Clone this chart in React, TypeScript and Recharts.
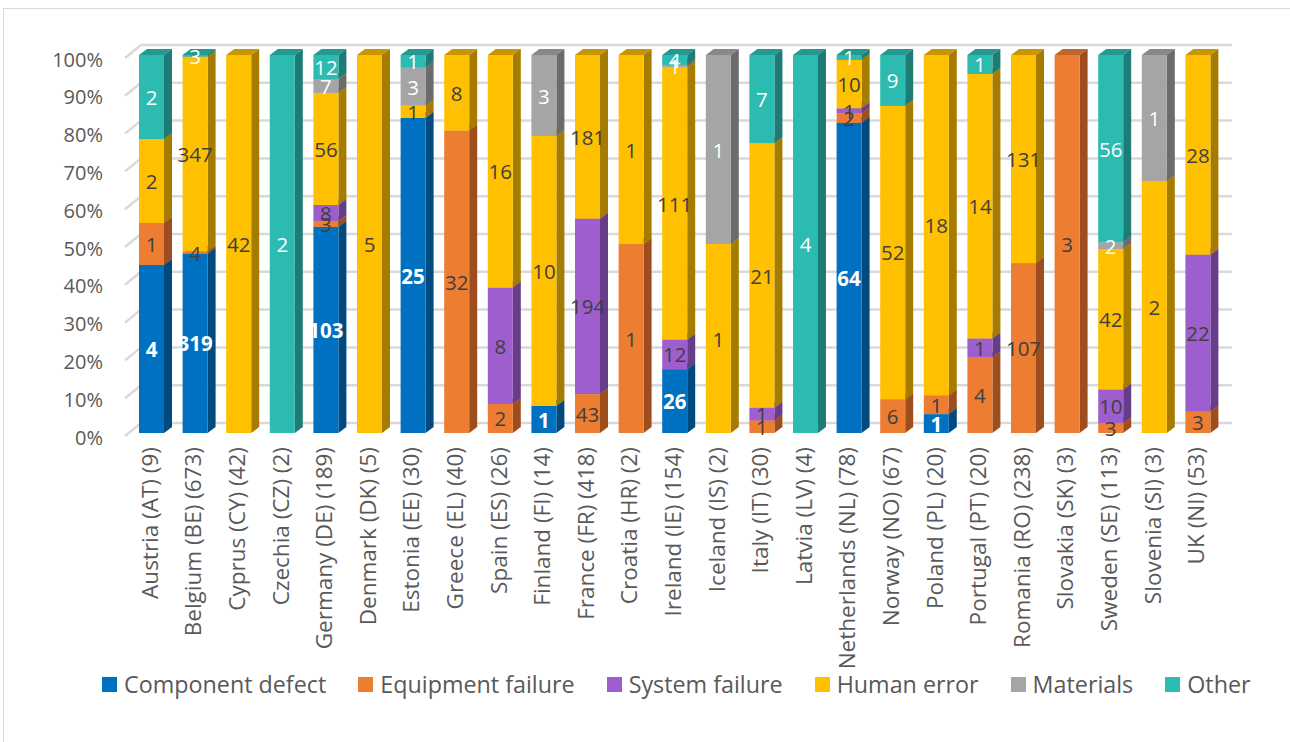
import React from 'react';
import { BarChart, Bar, XAxis, YAxis, CartesianGrid, LabelList } from 'recharts';

const countries = [
  'Austria (AT) (9)', 'Belgium (BE) (673)', 'Cyprus (CY) (42)', 'Czechia (CZ) (2)', 'Germany (DE) (189)',
  'Denmark (DK) (5)', 'Estonia (EE) (30)', 'Greece (EL) (40)', 'Spain (ES) (26)', 'Finland (FI) (14)',
  'France (FR) (418)', 'Croatia (HR) (2)', 'Ireland (IE) (154)', 'Iceland (IS) (2)', 'Italy (IT) (30)',
  'Latvia (LV) (4)', 'Netherlands (NL) (78)', 'Norway (NO) (67)', 'Poland (PL) (20)', 'Portugal (PT) (20)',
  'Romania (RO) (238)', 'Slovakia (SK) (3)', 'Sweden (SE) (113)', 'Slovenia (SI) (3)', 'UK (NI) (53)',
];

const componentDefect = [4, 319, 0, 0, 103, 0, 25, 0, 0, 1, 0, 0, 26, 0, 0, 0, 64, 0, 1, 0, 0, 0, 0, 0, 0];
const equipmentFailure = [1, 4, 0, 0, 3, 0, 0, 32, 2, 0, 43, 1, 0, 0, 1, 0, 2, 6, 1, 4, 107, 3, 3, 0, 3];
const systemFailure = [0, 0, 0, 0, 8, 0, 0, 0, 8, 0, 194, 0, 12, 0, 1, 0, 1, 0, 0, 1, 0, 0, 10, 0, 22];
const humanError = [2, 347, 42, 0, 56, 5, 1, 8, 16, 10, 181, 1, 111, 1, 21, 0, 10, 52, 18, 14, 131, 0, 42, 2, 28];
const materials = [0, 0, 0, 0, 7, 0, 3, 0, 0, 3, 0, 0, 1, 1, 0, 0, 0, 0, 0, 0, 0, 0, 2, 1, 0];
const other = [2, 3, 0, 2, 12, 0, 1, 0, 0, 0, 0, 0, 4, 0, 7, 4, 1, 9, 0, 1, 0, 0, 56, 0, 0];

const yTicks = [0, 0.1, 0.2, 0.3, 0.4, 0.5, 0.6, 0.7, 0.8, 0.9, 1];

const seriesDefs = [
  { key: 'cd', name: 'Component defect', values: componentDefect, front: '#0070C0', side: '#004A80', top: '#005A9C', label: '#FFFFFF', bold: true },
  { key: 'ef', name: 'Equipment failure', values: equipmentFailure, front: '#ED7D31', side: '#9E4E1E', top: '#C2652A', label: '#404040', bold: false },
  { key: 'sf', name: 'System failure', values: systemFailure, front: '#9E5ECE', side: '#673C88', top: '#8450AD', label: '#404040', bold: false },
  { key: 'he', name: 'Human error', values: humanError, front: '#FFC000', side: '#A67C00', top: '#C79600', label: '#404040', bold: false },
  { key: 'ma', name: 'Materials', values: materials, front: '#A5A5A5', side: '#6B6B6B', top: '#888888', label: '#FFFFFF', bold: false },
  { key: 'ot', name: 'Other', values: other, front: '#2BBBB0', side: '#1D7C75', top: '#239A91', label: '#FFFFFF', bold: false },
];

const data = countries.map((c, i) => {
  const row: any = { country: c };
  seriesDefs.forEach((s) => { row[s.key] = s.values[i]; });
  return row;
});

const FONT = '"Open Sans", "Noto Sans", sans-serif';
const DX = 8;
const DY = 6;

function make3D(s: any) {
  return (props: any) => {
    const { x, y, width, height } = props;
    if (!height || height <= 0.01) return <g />;
    const r = x + width;
    return (
      <g>
        <polygon points={`${x},${y} ${x + DX},${y - DY} ${r + DX},${y - DY} ${r},${y}`} fill={s.top} />
        <polygon points={`${r},${y} ${r + DX},${y - DY} ${r + DX},${y + height - DY} ${r},${y + height}`} fill={s.side} />
        <rect x={x} y={y} width={width} height={height} fill={s.front} />
      </g>
    );
  };
}

function makeLabel(s: any) {
  return (props: any) => {
    const { x, y, width, height, index } = props;
    const v = s.values[index];
    if (!v) return null;
    return (
      <text
        x={x + width / 2}
        y={y + height / 2}
        textAnchor="middle"
        dominantBaseline="central"
        fontFamily={FONT}
        fontSize={20.5}
        fontWeight={s.bold ? 700 : 400}
        fill={s.label}
      >
        {v}
      </text>
    );
  };
}

const gridLine = (props: any) => {
  const { y1, index } = props;
  const by = y1 - 10;
  return (
    <g key={`gl-${index}`}>
      <line x1={125} y1={y1 + 3} x2={141} y2={by} stroke="#D9D9D9" strokeWidth={2.5} />
      <line x1={141} y1={by} x2={1232} y2={by} stroke="#D9D9D9" strokeWidth={2.5} />
    </g>
  );
};

const YTick = (props: any) => {
  const { y, payload } = props;
  return (
    <text x={103} y={y + 4} textAnchor="end" dominantBaseline="central" fontFamily={FONT} fontSize={20} fill="#595959">
      {Math.round(payload.value * 100)}%
    </text>
  );
};

const XTick = (props: any) => {
  const { x, payload } = props;
  return (
    <text
      transform={`translate(${x + 6},447) rotate(-90)`}
      textAnchor="end"
      fontFamily={FONT}
      fontSize={22.5}
      fill="#595959"
    >
      {payload.value}
    </text>
  );
};

export default function App() {
  return (
    <div style={{ position: 'absolute', left: 0, top: 0, width: 1290, height: 742, background: '#fff', overflow: 'hidden' }}>
      <div style={{ position: 'absolute', left: 3, top: 8, width: 1400, height: 900, border: '1px solid #D9D9D9' }} />
      <div style={{ position: 'absolute', left: 0, top: 0 }}>
        <BarChart
          width={1290}
          height={742}
          data={data}
          stackOffset="expand"
          margin={{ top: 55, right: 70, bottom: 0, left: 0 }}
          barSize={25}
        >
          <CartesianGrid vertical={false} horizontal={gridLine} />
          <XAxis dataKey="country" interval={0} height={309} axisLine={false} tickLine={false} tick={<XTick />} />
          <YAxis type="number" domain={[0, 1]} ticks={yTicks} width={130} axisLine={false} tickLine={false} tick={<YTick />} />
          {seriesDefs.map((s) => (
            <Bar key={s.key} dataKey={s.key} name={s.name} stackId="a" isAnimationActive={false} shape={make3D(s)}>
              <LabelList dataKey={s.key} content={makeLabel(s)} />
            </Bar>
          ))}
        </BarChart>
      </div>
      <div
        style={{
          position: 'absolute', left: 102, top: 668, height: 32, display: 'flex', alignItems: 'center', gap: 32,
          fontFamily: FONT, fontSize: 23.3, color: '#595959', whiteSpace: 'nowrap',
        }}
      >
        {seriesDefs.map((s) => (
          <div key={s.key} style={{ display: 'flex', alignItems: 'center' }}>
            <div style={{ width: 15, height: 15, background: s.front, marginRight: 7 }} />
            <span>{s.name}</span>
          </div>
        ))}
      </div>
    </div>
  );
}
